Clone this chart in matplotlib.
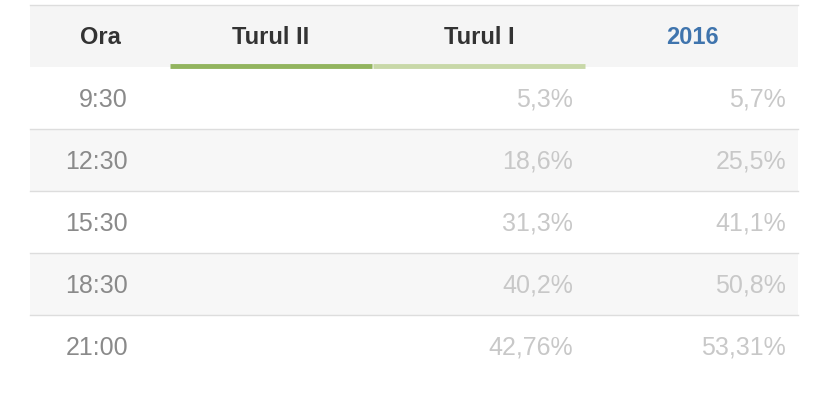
import matplotlib
matplotlib.use("Agg")
import matplotlib.pyplot as plt
from matplotlib.patches import Rectangle

headers = ["Ora", "Turul II", "Turul I", "2016"]
times = ["9:30", "12:30", "15:30", "18:30", "21:00"]
turul2 = ["", "", "", "", ""]
turul1 = ["5,3%", "18,6%", "31,3%", "40,2%", "42,76%"]
y2016 = ["5,7%", "25,5%", "41,1%", "50,8%", "53,31%"]

plt.rcParams['font.family'] = ['Liberation Sans', 'DejaVu Sans']
fig = plt.figure(figsize=(8.28, 4.04), dpi=100)
ax = fig.add_axes([0, 0, 1, 1])
ax.set_xlim(0, 828); ax.set_ylim(404, 0); ax.axis('off')

L, R = 30, 798
ax.add_patch(Rectangle((L, 5), R - L, 62, color='#f5f5f5', lw=0))
ax.plot([L, R], [4.5, 4.5], color='#dddddd', lw=1)
hx = [100, 271, 479, 692]
hc = ['#333333', '#333333', '#333333', '#3f74ad']
for x, t, c in zip(hx, headers, hc):
    ax.text(x, 37, t, ha='center', va='center', fontsize=17, fontweight='bold', color=c)
ax.plot([170, 372], [66, 66], color='#92b45e', lw=3.5, solid_capstyle='butt')
ax.plot([373, 585], [66, 66], color='#c8d8a8', lw=3.5, solid_capstyle='butt')

rh = 62
for i, (t, a, b, c) in enumerate(zip(times, turul2, turul1, y2016)):
    top = 67 + i * rh
    if i % 2 == 1:
        ax.add_patch(Rectangle((L, top), R - L, rh, color='#f7f7f7', lw=0))
    if i < len(times) - 1:
        ax.plot([L, R], [top + rh, top + rh], color='#dddddd', lw=1)
    yc = top + rh / 2 + 2
    ax.text(128, yc, t, ha='right', va='center', fontsize=18, color='#8a8a8a')
    ax.text(360, yc, a, ha='right', va='center', fontsize=18, color='#c8c8c8')
    ax.text(573, yc, b, ha='right', va='center', fontsize=18, color='#c8c8c8')
    ax.text(786, yc, c, ha='right', va='center', fontsize=18, color='#c8c8c8')

fig.savefig("out.png", dpi=100)
